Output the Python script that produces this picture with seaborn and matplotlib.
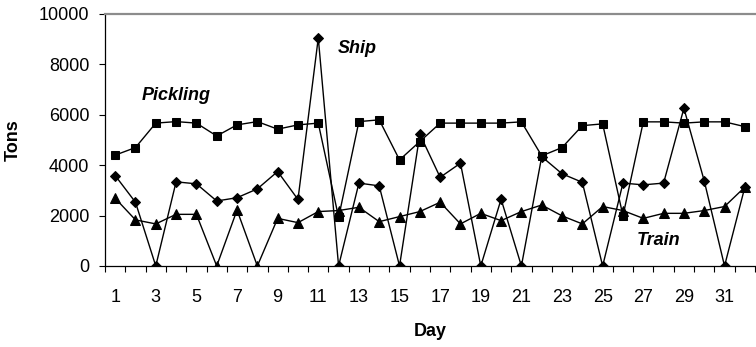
import matplotlib
matplotlib.use("Agg")
import matplotlib.pyplot as plt
from matplotlib.ticker import FixedLocator
import numpy as np
import pandas as pd
import seaborn as sns

# Daily tonnage by handling route
days = list(range(1, 33))
pickling = [4400, 4700, 5670, 5730, 5670, 5160, 5600, 5730, 5430, 5600,
            5670, 1930, 5730, 5800, 4210, 4940, 5670, 5670, 5670, 5670,
            5720, 4370, 4700, 5570, 5640, 1990, 5720, 5720, 5670, 5720,
            5720, 5530]
ship = [3590, 2530, 0, 3340, 3260, 2580, 2710, 3060, 3750, 2640,
        9050, 0, 3290, 3180, 0, 5230, 3520, 4080, 0, 2650,
        0, 4340, 3660, 3320, 0, 3290, 3220, 3290, 6260, 3380,
        0, 3130]
train = [2690, 1830, 1670, 2050, 2050, 0, 2220, 0, 1890, 1720,
         2160, 2200, 2330, 1760, 1960, 2160, 2530, 1670, 2090, 1800,
         2160, 2420, 1990, 1670, 2360, 2200, 1890, 2090, 2090, 2200,
         2360, 3130]
series_names = ["Pickling", "Ship", "Train"]
y_ticks = [0, 2000, 4000, 6000, 8000, 10000]
x_label_days = list(range(1, 32, 2))

df = pd.DataFrame({
    "Day": days * 3,
    "Tons": pickling + ship + train,
    "Series": [s for s in series_names for _ in days],
})

sns.set_theme(style="white")
plt.rcParams["font.family"] = ["Liberation Sans", "DejaVu Sans"]
plt.rcParams["text.color"] = "black"
plt.rcParams["axes.labelcolor"] = "black"

fig = plt.figure(figsize=(7.56, 3.47), dpi=100)
ax = fig.add_axes([105 / 756, (347 - 266) / 347, 650 / 756, 252 / 347])

sns.lineplot(
    data=df, x="Day", y="Tons", hue="Series", style="Series",
    palette={s: "black" for s in series_names},
    markers={"Pickling": "s", "Ship": "D", "Train": "^"},
    dashes=False, linewidth=1.0, markersize=6.5,
    markeredgecolor="black", legend=False, ax=ax,
)
# diamonds look larger than squares at equal size
for line, ms in zip(ax.lines, [6.0, 4.8, 7.2]):
    line.set_markersize(ms)

ax.set_xlim(0.5, 32.5)
ax.set_ylim(0, 10000)
ax.set_yticks(y_ticks)
ax.set_yticklabels([str(v) for v in y_ticks])

# category boundaries carry the tick marks; odd days carry the labels
ax.xaxis.set_major_locator(FixedLocator(np.arange(0.5, 33, 1.0)))
ax.xaxis.set_minor_locator(FixedLocator(x_label_days))
ax.set_xticklabels([])
ax.set_xticklabels([str(d) for d in x_label_days], minor=True)
ax.tick_params(axis="x", which="major", direction="out", length=4.3,
               width=0.8, color="black", bottom=True)
ax.tick_params(axis="x", which="minor", length=0, pad=16.5,
               labelsize=13, labelcolor="black")
ax.tick_params(axis="y", direction="out", length=4.3, width=0.8,
               color="black", left=True, pad=7, labelsize=13,
               labelcolor="black")

for side in ("left", "bottom"):
    ax.spines[side].set_color("black")
    ax.spines[side].set_linewidth(0.9)
ax.spines["top"].set_color("#8c8c8c")
ax.spines["top"].set_linewidth(1.6)
ax.spines["right"].set_visible(False)
ax.grid(False)

ax.set_xlabel("Day", fontsize=13, fontweight="bold", color="black")
ax.set_ylabel("Tons", fontsize=13, fontweight="bold", color="black")
ax.xaxis.set_label_coords(0.5, -0.258)
ax.yaxis.set_label_coords(-0.1415, 0.5)
ax.yaxis.label.set_va("center")
ax.xaxis.label.set_va("center")

label_font = dict(fontsize=13, fontweight="bold", fontstyle="italic",
                  va="center", ha="left", color="black")
ax.text(2.32, 6750, "Pickling", **label_font)
ax.text(11.98, 8620, "Ship", **label_font)
ax.text(26.66, 1030, "Train", **label_font)

fig.savefig("out.png", dpi=100)
